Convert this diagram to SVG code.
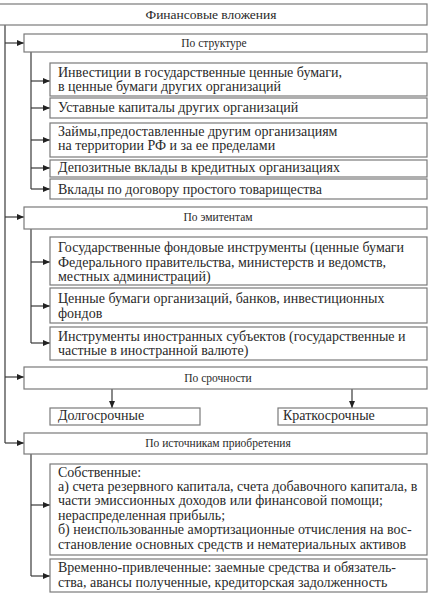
<svg xmlns="http://www.w3.org/2000/svg" width="430" height="597" viewBox="0 0 430 597">
<style>
.box{fill:#fff;stroke:#7a7a7a;stroke-width:1.2}
.t{font-family:"Liberation Serif","Times New Roman",serif;font-size:14px;fill:#2a2a2a}
.h{font-family:"Liberation Serif","Times New Roman",serif;font-size:11.5px;fill:#2a2a2a;text-anchor:middle}
.c{fill:none;stroke:#3a3a3a;stroke-width:1.2}
</style>
<defs>
<marker id="ah" markerWidth="8" markerHeight="8" refX="7" refY="4" orient="auto" markerUnits="userSpaceOnUse">
<path d="M0,1 L7,4 L0,7 Z" fill="#222"/>
</marker>
</defs>
<rect width="430" height="597" fill="#fff"/>
<g id="connectors">
<path class="c" d="M5,25 V443"/>
<path class="c" d="M5,43 H24" marker-end="url(#ah)"/>
<path class="c" d="M5,217 H24" marker-end="url(#ah)"/>
<path class="c" d="M5,377 H24" marker-end="url(#ah)"/>
<path class="c" d="M5,443 H24" marker-end="url(#ah)"/>
<path class="c" d="M31,52 V189"/>
<path class="c" d="M31,81 H50" marker-end="url(#ah)"/>
<path class="c" d="M31,108 H50" marker-end="url(#ah)"/>
<path class="c" d="M31,140 H50" marker-end="url(#ah)"/>
<path class="c" d="M31,168 H50" marker-end="url(#ah)"/>
<path class="c" d="M31,189 H50" marker-end="url(#ah)"/>
<path class="c" d="M31,229 V343"/>
<path class="c" d="M31,262 H50" marker-end="url(#ah)"/>
<path class="c" d="M31,306 H50" marker-end="url(#ah)"/>
<path class="c" d="M31,343 H50" marker-end="url(#ah)"/>
<path class="c" d="M112,389 V408" marker-end="url(#ah)"/>
<path class="c" d="M352,389 V408" marker-end="url(#ah)"/>
<path class="c" d="M31,454 V576"/>
<path class="c" d="M31,505 H50" marker-end="url(#ah)"/>
<path class="c" d="M31,576 H50" marker-end="url(#ah)"/>
</g>
<g id="root"><rect class="box" x="-2" y="4" width="429" height="21"/><text class="h" x="211" y="19" style="font-size:13.5px">Финансовые вложения</text></g>
<g id="structure"><rect class="box" x="24" y="34" width="403" height="18"/><text class="h" x="214" y="47">По структуре</text></g>
<g id="s1"><rect class="box" x="50" y="63" width="377" height="33"/><text class="t" x="58" y="77">Инвестиции в государственные ценные бумаги,</text><text class="t" x="58" y="91">в ценные бумаги других организаций</text></g>
<g id="s2"><rect class="box" x="50" y="98" width="377" height="20"/><text class="t" x="58" y="112">Уставные капиталы других организаций</text></g>
<g id="s3"><rect class="box" x="50" y="123" width="377" height="34"/><text class="t" x="58" y="136">Займы,предоставленные другим организациям</text><text class="t" x="58" y="150">на территории РФ и за ее пределами</text></g>
<g id="s4"><rect class="box" x="50" y="160" width="377" height="17"/><text class="t" x="58" y="172">Депозитные вклады в кредитных организациях</text></g>
<g id="s5"><rect class="box" x="50" y="179" width="377" height="20"/><text class="t" x="58" y="194">Вклады по договору простого товарищества</text></g>
<g id="issuers"><rect class="box" x="24" y="207" width="403" height="22"/><text class="h" x="218" y="221">По эмитентам</text></g>
<g id="e1"><rect class="box" x="50" y="237" width="377" height="48"/><text class="t" x="58" y="252">Государственные фондовые инструменты (ценные бумаги</text><text class="t" x="58" y="267">Федерального правительства, министерств и ведомств,</text><text class="t" x="58" y="281">местных администраций)</text></g>
<g id="e2"><rect class="box" x="50" y="288" width="377" height="35"/><text class="t" x="58" y="303">Ценные бумаги организаций, банков, инвестиционных</text><text class="t" x="58" y="318">фондов</text></g>
<g id="e3"><rect class="box" x="50" y="327" width="377" height="33"/><text class="t" x="58" y="341">Инструменты иностранных субъектов (государственные и</text><text class="t" x="58" y="355">частные в иностранной валюте)</text></g>
<g id="term"><rect class="box" x="24" y="367" width="403" height="22"/><text class="h" x="218" y="382">По срочности</text></g>
<g id="long"><rect class="box" x="50" y="408" width="150" height="17"/><text class="t" x="58" y="420">Долгосрочные</text></g>
<g id="short"><rect class="box" x="278" y="408" width="149" height="17"/><text class="t" x="283" y="420">Краткосрочные</text></g>
<g id="sources"><rect class="box" x="24" y="433" width="403" height="21"/><text class="h" x="218" y="447">По источникам приобретения</text></g>
<g id="own"><rect class="box" x="50" y="464" width="377" height="91"/><text class="t" x="58" y="477">Собственные:</text><text class="t" x="58" y="491">а) счета резервного капитала, счета добавочного капитала, в</text><text class="t" x="58" y="505">части эмиссионных доходов или финансовой помощи;</text><text class="t" x="58" y="520">нераспределенная прибыль;</text><text class="t" x="58" y="534">б) неиспользованные амортизационные отчисления на вос-</text><text class="t" x="58" y="549">становление основных средств и нематериальных активов</text></g>
<g id="borrowed"><rect class="box" x="50" y="559" width="377" height="33"/><text class="t" x="58" y="572">Временно-привлеченные: заемные средства и обязатель-</text><text class="t" x="58" y="587">ства, авансы полученные, кредиторская задолженность</text></g>
</svg>
